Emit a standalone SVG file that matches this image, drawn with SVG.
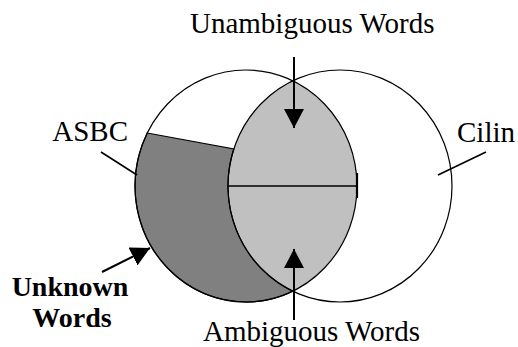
<svg xmlns="http://www.w3.org/2000/svg" width="518" height="347" viewBox="0 0 518 347">
<style>
.lbl{font-size:29px;fill:#000}
.bold{font-weight:bold;font-size:28px}
.outline{fill:none;stroke:#000;stroke-width:1.2}
.conn{stroke:#000;stroke-width:2;fill:none}
.lead{stroke:#000;stroke-width:1.6;fill:none}
</style>
<defs>
<marker id="ah" markerUnits="userSpaceOnUse" markerWidth="19" markerHeight="20" refX="19" refY="10" orient="auto">
<path d="M0,0 L19,10 L0,20 z" fill="#000"/>
</marker>
</defs>
<rect width="518" height="347" fill="#fff"/>
<g id="asbc">
<ellipse cx="246" cy="186" rx="111" ry="116" fill="#fff"/>
</g>
<g id="cilin">
<ellipse cx="340" cy="186" rx="112" ry="116" fill="#fff"/>
</g>
<g id="overlap">
<path d="M292.8,80.8 A111,116 0 0 1 292.8,291.2 A112,116 0 0 1 292.8,80.8 Z" fill="#c0c0c0"/>
</g>
<g id="unknown">
<path d="M147.3,133 L233.8,149 A112,116 0 0 0 292.8,291.2 A111,116 0 0 1 147.3,133 Z" fill="#808080" stroke="#000" stroke-width="1.2"/>
</g>
<g id="outlines">
<ellipse class="outline" cx="246" cy="186" rx="111" ry="116"/>
<ellipse class="outline" cx="340" cy="186" rx="112" ry="116"/>
<line x1="228" y1="186" x2="357" y2="186" stroke="#000" stroke-width="1.5"/>
<line x1="357" y1="173" x2="357" y2="198" stroke="#000" stroke-width="2.2"/>
</g>
<g id="connectors">
<line class="conn" x1="294" y1="57" x2="294" y2="128" marker-end="url(#ah)"/>
<line class="conn" x1="294" y1="320" x2="294" y2="249" marker-end="url(#ah)"/>
<line class="conn" x1="102" y1="272" x2="150" y2="248" marker-end="url(#ah)"/>
<line class="lead" x1="101" y1="152" x2="137" y2="175"/>
<line class="lead" x1="486" y1="152" x2="438" y2="175"/>
</g>
<g id="labels" font-family="Liberation Serif, Times New Roman, DejaVu Serif, serif">
<text class="lbl" x="190" y="33">Unambiguous Words</text>
<text class="lbl" x="203" y="341">Ambiguous Words</text>
<text class="lbl" x="128" y="141" text-anchor="end">ASBC</text>
<text class="lbl" x="457" y="142">Cilin</text>
<text class="lbl bold" x="70" y="296" text-anchor="middle">Unknown</text>
<text class="lbl bold" x="72" y="327" text-anchor="middle">Words</text>
</g>
</svg>
